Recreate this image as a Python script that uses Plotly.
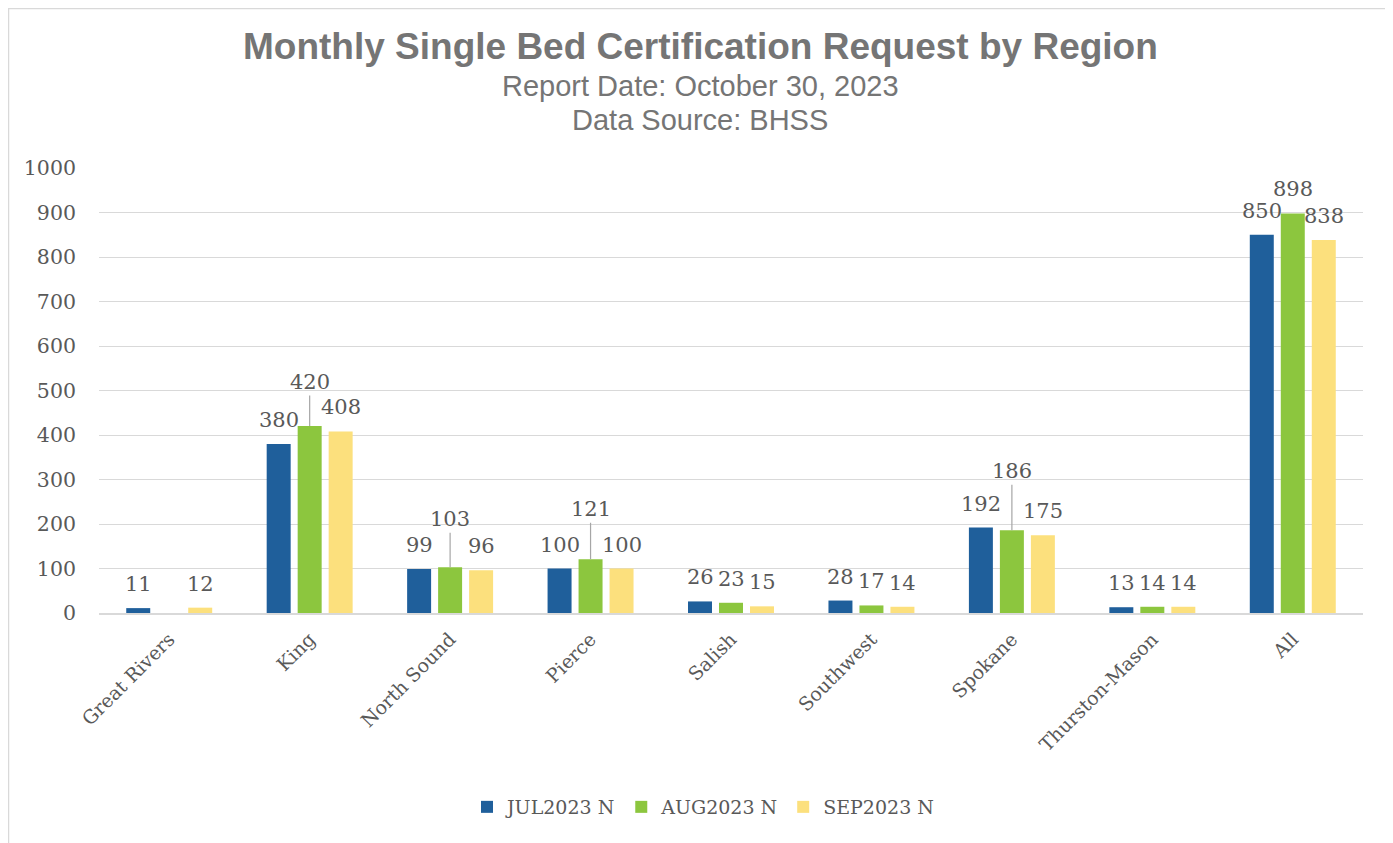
import plotly.graph_objects as go

regions = ["Great Rivers", "King", "North Sound", "Pierce", "Salish",
           "Southwest", "Spokane", "Thurston-Mason", "All"]
series_names = ["JUL2023 N", "AUG2023 N", "SEP2023 N"]
jul = [11, 380, 99, 100, 26, 28, 192, 13, 850]
aug = [None, 420, 103, 121, 23, 17, 186, 14, 898]
sep = [12, 408, 96, 100, 15, 14, 175, 14, 838]
y_ticks = [0, 100, 200, 300, 400, 500, 600, 700, 800, 900, 1000]

colors = ["#1F5F9B", "#8CC63E", "#FCE07D"]
series = [jul, aug, sep]

# styling: labels that Excel lifted with a leader line (series index, category)
raised = {(1, "King"): 44, (1, "North Sound"): 48, (1, "Pierce"): 50, (1, "Spokane"): 59}

OFF = 8  # page body margin
W, H = 1393 - OFF, 843 - OFF
L, R, T, B = 99 - OFF, 30, 168 - OFF, 230
pw, ph = W - L - R, H - T - B

serif = "DejaVu Serif"
grey = "#595959"

fig = go.Figure()
for name, vals, col in zip(series_names, series, colors):
    fig.add_trace(go.Bar(name=name, x=regions, y=vals, marker_color=col,
                         marker_line_width=0))

slot = 31
annotations = []
for si, vals in enumerate(series):
    xs = (si - 1) * slot
    for cat, v in zip(regions, vals):
        if v is None:
            continue
        if (si, cat) in raised:
            annotations.append(dict(x=cat, y=v, xref="x", yref="y", text=str(v),
                                    showarrow=True, arrowhead=0, arrowwidth=1.2,
                                    arrowcolor="#A6A6A6", ax=0, ay=-raised[(si, cat)],
                                    xshift=xs, standoff=0,
                                    font=dict(family=serif, size=21, color=grey)))
        else:
            annotations.append(dict(x=cat, y=v, xref="x", yref="y", text=str(v),
                                    showarrow=False, yanchor="middle", yshift=24,
                                    xshift=xs,
                                    font=dict(family=serif, size=21, color=grey)))

def px(x):
    return (x - OFF - L) / pw

def py(y):
    return (H - B - (y - OFF)) / ph

annotations += [
    dict(x=px(700), y=py(47), xref="paper", yref="paper", showarrow=False,
         xanchor="center", yanchor="middle",
         text="<b>Monthly Single Bed Certification Request by Region</b>",
         font=dict(family="Liberation Sans, Arial", size=37, color="#757575")),
    dict(x=px(700), y=py(86), xref="paper", yref="paper", showarrow=False,
         xanchor="center", yanchor="middle",
         text="Report Date: October 30, 2023",
         font=dict(family="Liberation Sans, Arial", size=29, color="#757575")),
    dict(x=px(700), y=py(120), xref="paper", yref="paper", showarrow=False,
         xanchor="center", yanchor="middle",
         text="Data Source: BHSS",
         font=dict(family="Liberation Sans, Arial", size=29, color="#757575")),
]

fig.update_layout(
    width=W, height=H,
    margin=dict(l=L, r=R, t=T, b=B),
    plot_bgcolor="white", paper_bgcolor="white",
    barmode="group", bargap=0.338, bargroupgap=0.226,
    annotations=annotations,
    showlegend=True,
    legend=dict(orientation="h", x=px(703), xanchor="center", y=py(807), yanchor="middle",
                font=dict(family=serif, size=19, color=grey),
                itemwidth=30, traceorder="normal"),
    shapes=[dict(type="rect", xref="paper", yref="paper",
                 x0=px(OFF + 0.5), x1=px(1392), y0=py(880), y1=py(OFF + 0.5),
                 line=dict(color="#D9D9D9", width=1.5), fillcolor="rgba(0,0,0,0)",
                 layer="below")],
)
fig.update_xaxes(tickangle=-45, tickfont=dict(family=serif, size=19, color=grey),
                 showgrid=False, showline=True, linecolor="#D9D9D9", linewidth=1.5,
                 ticks="", ticklen=0, ticklabelstandoff=6)
fig.update_yaxes(range=[0, 1000], tickvals=y_ticks, showgrid=True,
                 gridcolor="#D9D9D9", gridwidth=1.3, zeroline=False,
                 tickfont=dict(family=serif, size=20.5, color=grey), ticks="",
                 ticklabelstandoff=22)

fig.write_html("out.html")
